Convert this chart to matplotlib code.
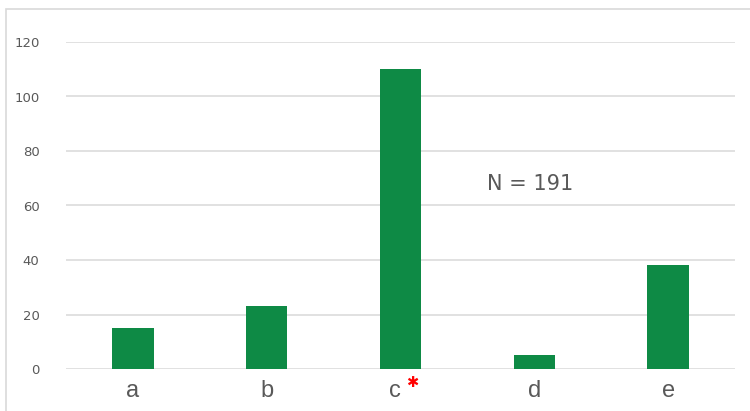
import numpy as np
from matplotlib import pyplot as plt
from matplotlib.patches import Rectangle
import matplotlib.transforms as mtransforms

# counts per group
groups = ['a', 'b', 'c', 'd', 'e']
counts = [15, 23, 110, 5, 38]
yticks = [0, 20, 40, 60, 80, 100, 120]
note = 'N = 191'

grey = '#595959'
green = '#0e8a45'

fig = plt.figure(figsize=(7.5, 4.11), dpi=100)
ax = fig.add_axes([66/750, 42/411, (735-66)/750, (369-42)/411])

# light frame round the whole chart
fig.patches.append(Rectangle((6/750, -0.2), 1.2, 1.2 - 9/411, transform=fig.transFigure,
                             fill=False, edgecolor='#d9d9d9', lw=1.2))

x = np.arange(len(groups))
ax.bar(x, counts, width=0.31, color=green, zorder=3)

ax.set_xlim(-0.5, len(groups) - 0.5)
ax.set_ylim(0, 120)
ax.set_yticks(yticks)
ax.yaxis.grid(True, color='#d9d9d9', lw=1.1, zorder=0)
for s in ax.spines.values():
  s.set_visible(False)
ax.tick_params(axis='both', length=0)
ax.tick_params(axis='y', labelsize=9.5, labelcolor=grey, pad=19)
ax.set_xticks(x)
ax.set_xticklabels(groups, fontsize=17, color=grey, family='Liberation Sans')
ax.tick_params(axis='x', pad=8)

# nudge the "c" label left to leave room for the red star
lab = ax.get_xticklabels()[2]
lab.set_transform(lab.get_transform() + mtransforms.ScaledTranslation(-6/100, 0, fig.dpi_scale_trans))
trans = mtransforms.blended_transform_factory(ax.transData, ax.transAxes)
ax.text(2 + 0.09, -0.018, '\u2731', transform=trans, color='#ff0000', fontsize=10.5,
        ha='center', va='top', family='DejaVu Sans')

ax.text(2.65, 68, note, fontsize=15, color=grey, ha='left', va='center')

plt.savefig('out.png', dpi=100)
